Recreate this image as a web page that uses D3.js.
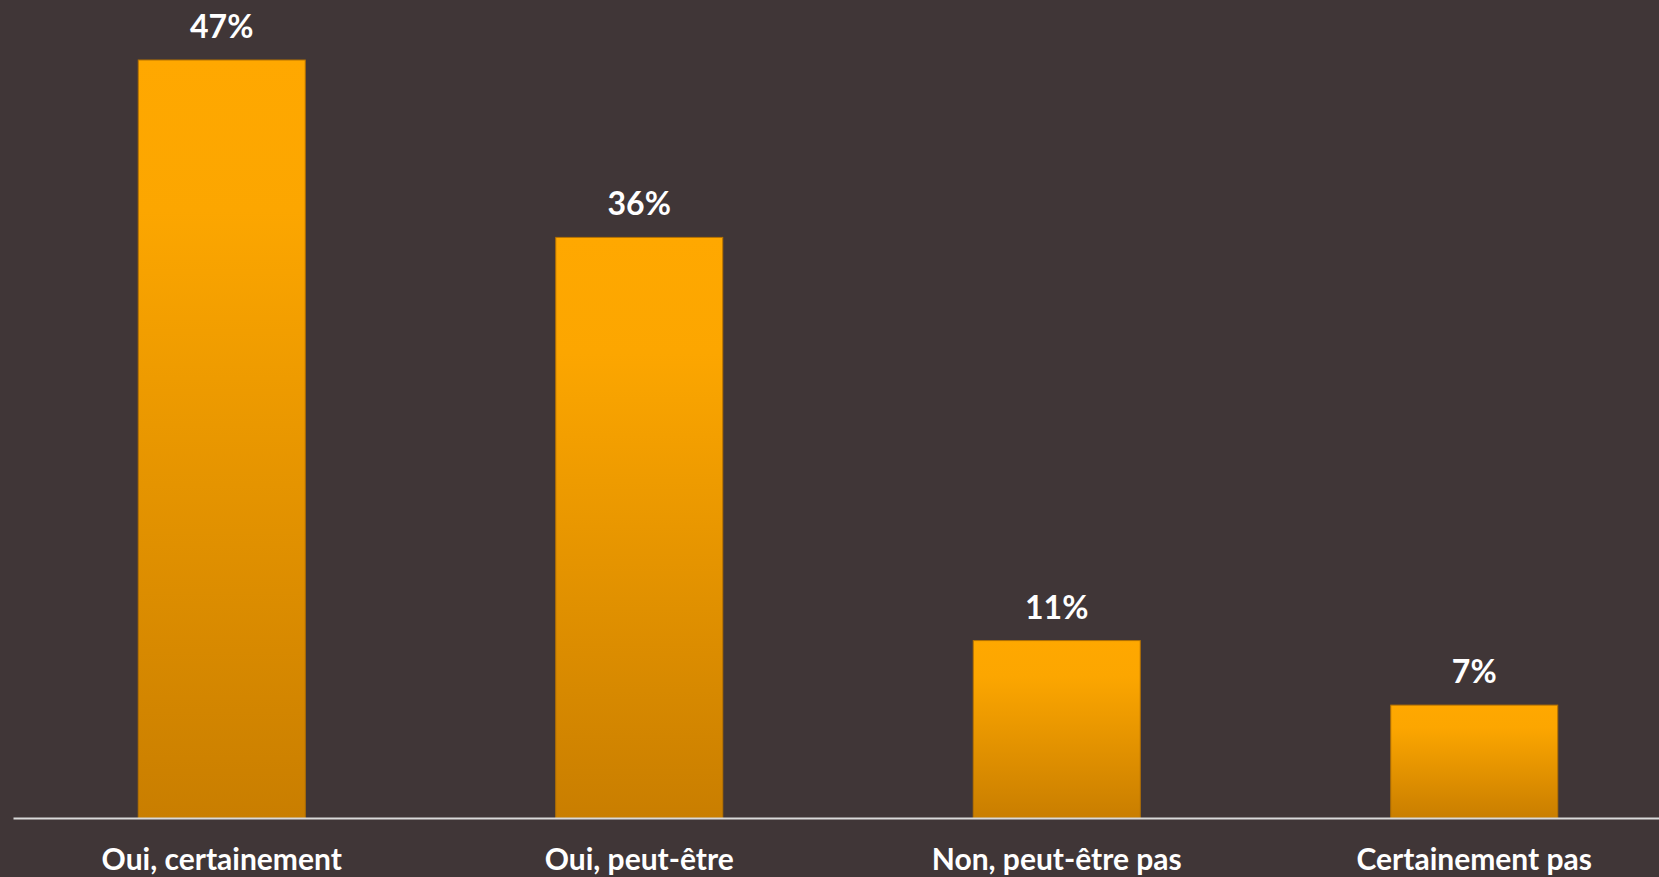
<!DOCTYPE html>
<html>
<head>
<meta charset="utf-8">
<script src="https://cdn.jsdelivr.net/npm/d3@7"></script>
<style>
html,body{margin:0;padding:0;background:#403637;overflow:hidden;}
svg{display:block;}
</style>
</head>
<body>
<svg id="chart" width="1659" height="877"></svg>
<script>
const categories = ["Oui, certainement", "Oui, peut-être", "Non, peut-être pas", "Certainement pas"];
const values = [47, 36, 11, 7];
const valueLabels = ["47%", "36%", "11%", "7%"];

const W = 1659, H = 877;
const svg = d3.select("#chart");
svg.append("rect").attr("width", W).attr("height", H).attr("fill", "#403637");

const defs = svg.append("defs");
const grad = defs.append("linearGradient").attr("id", "barGrad")
  .attr("x1", 0).attr("y1", 0).attr("x2", 0).attr("y2", 1);
grad.append("stop").attr("offset", "0%").attr("stop-color", "#FFA800");
grad.append("stop").attr("offset", "20%").attr("stop-color", "#FCA600");
grad.append("stop").attr("offset", "100%").attr("stop-color", "#C97E00");

const x = d3.scaleBand().domain(categories).range([13, 1683])
  .paddingInner(0.6).paddingOuter(0.3);
const y = d3.scaleLinear().domain([0, 47]).range([818, 60]);

const data = categories.map((c, i) => ({c, v: values[i], l: valueLabels[i]}));

svg.selectAll("rect.bar").data(data).enter().append("rect")
  .attr("class", "bar")
  .attr("x", d => x(d.c))
  .attr("y", d => y(d.v))
  .attr("width", x.bandwidth())
  .attr("height", d => y(0) - y(d.v))
  .attr("fill", "url(#barGrad)")
  .attr("stroke", "#B57200")
  .attr("stroke-width", 1);

// axis line
const axis = d3.axisBottom(x).tickSize(0).tickPadding(0);
const gx = svg.append("g").attr("transform", `translate(0,${y(0)})`).call(axis);
gx.select(".domain").attr("stroke", "#D9D9D9").attr("stroke-width", 2);
gx.selectAll("text").remove();

svg.selectAll("text.cat").data(data).enter().append("text")
  .attr("class", "cat")
  .attr("x", d => x(d.c) + x.bandwidth() / 2)
  .attr("y", 870)
  .attr("text-anchor", "middle")
  .attr("fill", "#FFFFFF")
  .style("font-family", "Lato, 'Open Sans', sans-serif")
  .style("font-weight", 700)
  .style("font-size", "30px")
  .text(d => d.c);

svg.selectAll("text.val").data(data).enter().append("text")
  .attr("class", "val")
  .attr("x", d => x(d.c) + x.bandwidth() / 2)
  .attr("y", d => y(d.v) - 22)
  .attr("text-anchor", "middle")
  .attr("fill", "#FFFFFF")
  .style("font-family", "Lato, 'Open Sans', sans-serif")
  .style("font-weight", 700)
  .style("font-size", "32px")
  .text(d => d.l);
</script>
</body>
</html>
